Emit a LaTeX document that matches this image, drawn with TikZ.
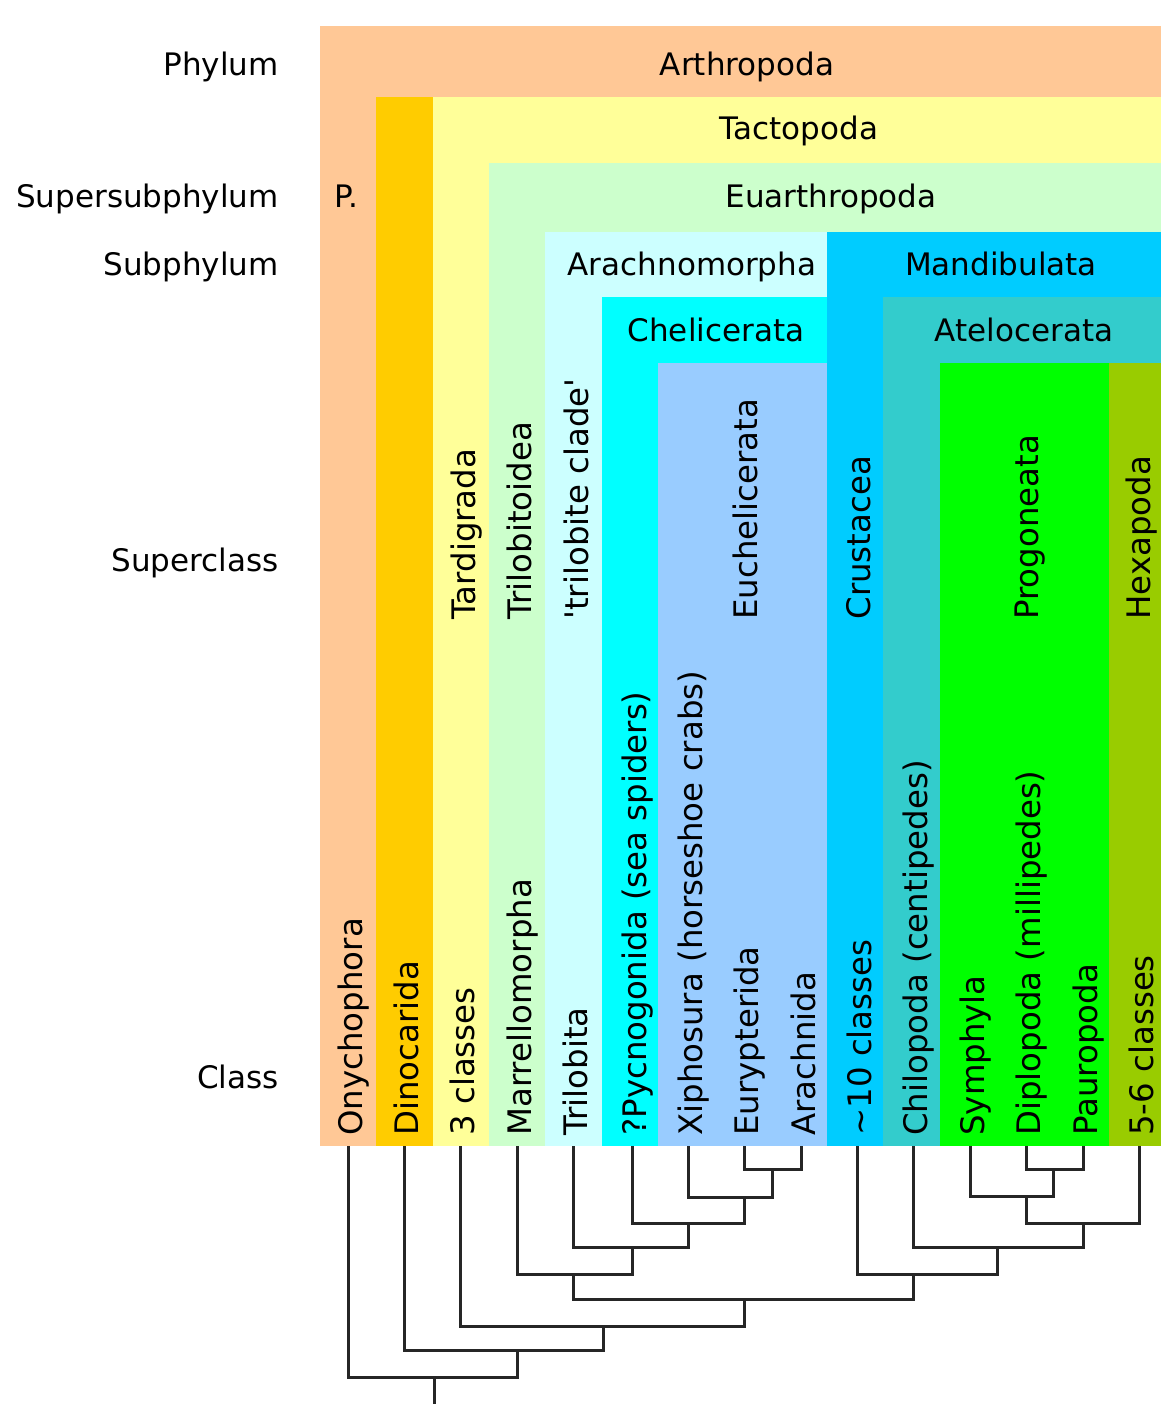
\documentclass[tikz,border=0pt]{standalone}
\usepackage{fontspec}
\setmainfont{DejaVu Sans}[Ligatures=TeXOff]

\definecolor{arthro}{HTML}{FFC896}
\definecolor{dino}{HTML}{FFCC00}
\definecolor{tacto}{HTML}{FFFF99}
\definecolor{euarth}{HTML}{CCFFCC}
\definecolor{arachno}{HTML}{CCFFFF}
\definecolor{chelic}{HTML}{00FFFF}
\definecolor{euchel}{HTML}{99CCFF}
\definecolor{mandib}{HTML}{00CCFF}
\definecolor{ateloc}{HTML}{33CCCC}
\definecolor{progon}{HTML}{00FF00}
\definecolor{hexap}{HTML}{99CC00}

\begin{document}
\begin{tikzpicture}[x=0.5pt, y=-0.5pt,
    lab/.style={inner sep=0pt, anchor=base, font=\fontsize{15.5}{18}\selectfont},
    rowlab/.style={lab, anchor=base east},
    vlab/.style={inner sep=0pt, rotate=90, anchor=base west, font=\fontsize{16.2}{19}\selectfont},
    branch/.style={line width=1.5pt, black!85}]

    \useasboundingbox (0, 0) rectangle (1161, 1404);

    % nested boxes
    \fill[arthro] (320, 26) rectangle (1161, 1146);
    \fill[dino] (376, 97) rectangle (433, 1146);
    \fill[tacto] (433, 97) rectangle (1161, 1146);
    \fill[euarth] (489, 163) rectangle (1161, 1146);
    \fill[arachno] (545, 232) rectangle (827, 1146);
    \fill[chelic] (602, 297) rectangle (827, 1146);
    \fill[euchel] (658, 363) rectangle (827, 1146);
    \fill[mandib] (827, 232) rectangle (1161, 1146);
    \fill[ateloc] (883, 297) rectangle (1161, 1146);
    \fill[progon] (940, 363) rectangle (1109, 1146);
    \fill[hexap] (1109, 363) rectangle (1161, 1146);

    % ranks
    \node[rowlab] (phylum) at (279, 75) {Phylum};
    \node[rowlab] (supersub) at (279, 207) {Supersubphylum};
    \node[rowlab] (subphylum) at (279, 275) {Subphylum};
    \node[rowlab] (superclass) at (279, 571) {Superclass};
    \node[rowlab] (class) at (279, 1088) {Class};

    % horizontal taxa
    \node[lab] (arthropoda) at (747, 75) {Arthropoda};
    \node[lab] (tactopoda) at (799, 139) {Tactopoda};
    \node[lab] (p) at (346, 207) {P.};
    \node[lab] (euarthropoda) at (831, 207) {Euarthropoda};
    \node[lab] (arachnomorpha) at (692, 275) {Arachnomorpha};
    \node[lab] (mandibulata) at (1001, 275) {Mandibulata};
    \node[lab] (chelicerata) at (716, 341) {Chelicerata};
    \node[lab] (atelocerata) at (1024, 341) {Atelocerata};

    % superclasses
    \node[vlab] (tardigrada) at (475, 620) {Tardigrada};
    \node[vlab] (trilobitoidea) at (531, 620) {Trilobitoidea};
    \node[vlab] (triloclade) at (588, 620) {'trilobite clade'};
    \node[vlab] (euchelicerata) at (757, 620) {Euchelicerata};
    \node[vlab] (crustacea) at (870, 620) {Crustacea};
    \node[vlab] (progoneata) at (1038, 620) {Progoneata};
    \node[vlab] (hexapoda) at (1150, 620) {Hexapoda};

    % classes
    \node[vlab] (onychophora) at (362, 1136) {Onychophora};
    \node[vlab] (dinocarida) at (418, 1136) {Dinocarida};
    \node[vlab] (tardcl) at (474, 1136) {3 classes};
    \node[vlab] (marrello) at (531, 1136) {Marrellomorpha};
    \node[vlab] (trilobita) at (587, 1136) {Trilobita};
    \node[vlab] (pycno) at (646, 1136) {?Pycnogonida (sea spiders)};
    \node[vlab] (xipho) at (702, 1136) {Xiphosura (horseshoe crabs)};
    \node[vlab] (euryp) at (758, 1136) {Eurypterida};
    \node[vlab] (arachnida) at (815, 1136) {Arachnida};
    \node[vlab] (crustcl) at (871, 1136) {{\char"223C}10 classes};
    \node[vlab] (chilo) at (927, 1136) {Chilopoda (centipedes)};
    \node[vlab] (symph) at (984, 1136) {Symphyla};
    \node[vlab] (diplo) at (1040, 1136) {Diplopoda (millipedes)};
    \node[vlab] (pauro) at (1097, 1136) {Pauropoda};
    \node[vlab] (hexcl) at (1153, 1136) {5-6 classes};

    % tree
    \coordinate (Lony) at (348, 1146);
    \coordinate (Ldin) at (404, 1146);
    \coordinate (Ltar) at (460, 1146);
    \coordinate (Lmar) at (517, 1146);
    \coordinate (Ltri) at (573, 1146);
    \coordinate (Lpyc) at (632, 1146);
    \coordinate (Lxip) at (688, 1146);
    \coordinate (Leur) at (744, 1146);
    \coordinate (Lara) at (801, 1146);
    \coordinate (Lcru) at (857, 1146);
    \coordinate (Lchi) at (913, 1146);
    \coordinate (Lsym) at (970, 1146);
    \coordinate (Ldip) at (1026, 1146);
    \coordinate (Lpau) at (1083, 1146);
    \coordinate (Lhex) at (1139, 1146);

    \coordinate (Neurara) at (772, 1169);
    \coordinate (Nxiph) at (744, 1197);
    \coordinate (Npycn) at (688, 1223);
    \coordinate (Ntril) at (632, 1247);
    \coordinate (Nmarr) at (573, 1274);
    \coordinate (Ndippau) at (1053, 1169);
    \coordinate (Nsymp) at (1026, 1196);
    \coordinate (Nhexa) at (1083, 1223);
    \coordinate (Nchil) at (997, 1247);
    \coordinate (Ncrus) at (913, 1274);
    \coordinate (Neuar) at (744, 1299);
    \coordinate (Ntard) at (603, 1326);
    \coordinate (Ndino) at (517, 1350);
    \coordinate (Nroot) at (434, 1377);
    \coordinate (stem) at (434, 1404);

    \draw[branch] (Leur) |- (Neurara) -| (Lara);
    \draw[branch] (Lxip) |- (Nxiph) -| (Neurara);
    \draw[branch] (Lpyc) |- (Npycn) -| (Nxiph);
    \draw[branch] (Ltri) |- (Ntril) -| (Npycn);
    \draw[branch] (Lmar) |- (Nmarr) -| (Ntril);
    \draw[branch] (Ldip) |- (Ndippau) -| (Lpau);
    \draw[branch] (Lsym) |- (Nsymp) -| (Ndippau);
    \draw[branch] (Nsymp) |- (Nhexa) -| (Lhex);
    \draw[branch] (Lchi) |- (Nchil) -| (Nhexa);
    \draw[branch] (Lcru) |- (Ncrus) -| (Nchil);
    \draw[branch] (Nmarr) |- (Neuar) -| (Ncrus);
    \draw[branch] (Ltar) |- (Ntard) -| (Neuar);
    \draw[branch] (Ldin) |- (Ndino) -| (Ntard);
    \draw[branch] (Lony) |- (Nroot) -| (Ndino);
    \draw[branch] (Nroot) -- (stem);

\end{tikzpicture}
\end{document}
